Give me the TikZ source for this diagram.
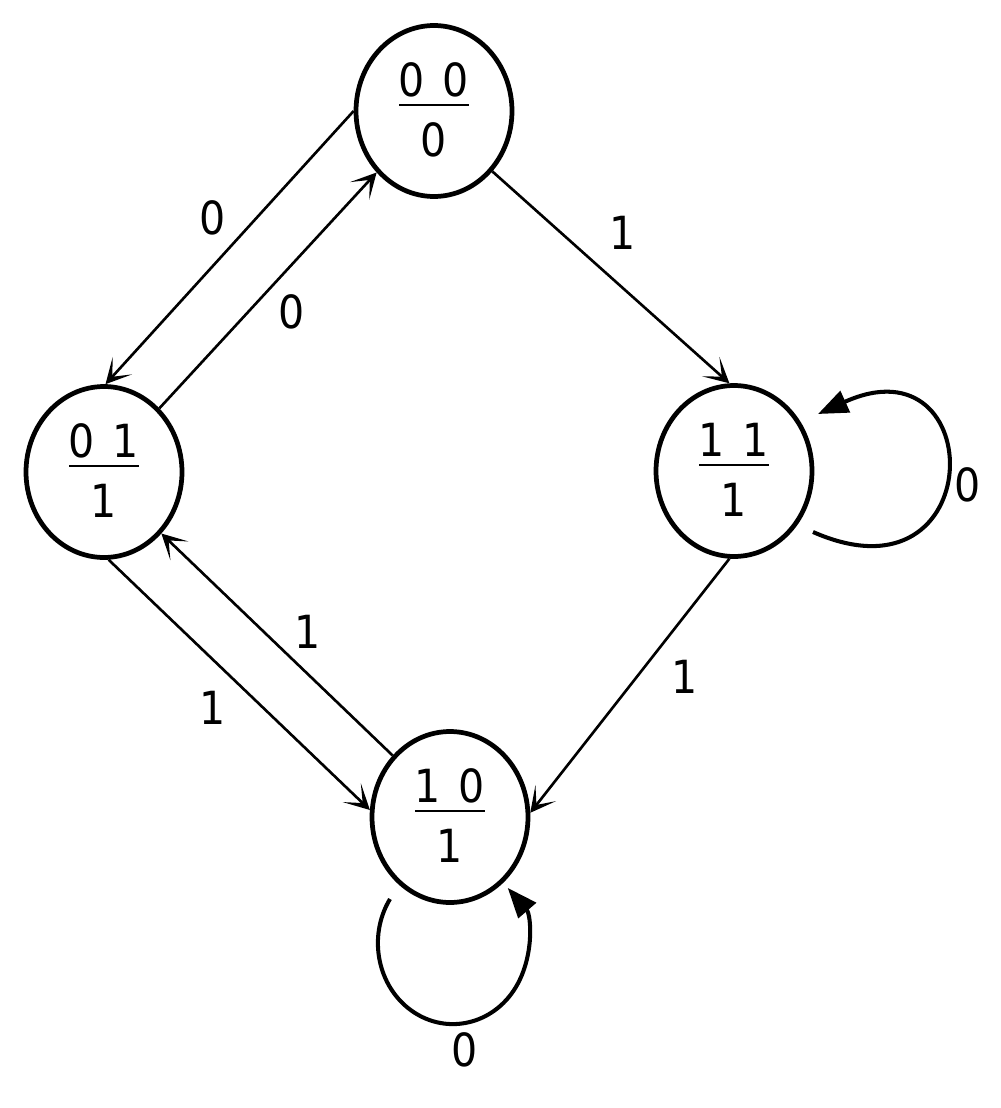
\documentclass[tikz,border=0pt]{standalone}
\usepackage{fontspec}
\newfontfamily\digfont[FakeStretch=0.9]{DejaVu Sans}
\usetikzlibrary{arrows.meta,shapes.geometric,calc}
\begin{document}
\begin{tikzpicture}[x=0.02cm,y=-0.02cm,
  state/.style={ellipse, draw, line width=2.7pt, minimum width=3.12cm, minimum height=3.42cm, inner sep=0pt},
  dig/.style={font=\digfont\fontsize{26}{30}\selectfont, inner sep=0pt},
  fracline/.style={line width=1pt},
  tr/.style={line width=1.5pt, -{Stealth[length=0.5cm,width=0.52cm,inset=0.3cm]}},
  selfloop/.style={line width=2.3pt, -{Triangle[length=0.6cm,width=0.46cm]}}]
\useasboundingbox (0,0) rectangle (1000,1108);

% states
\node[state] (s00) at (434,111) {};
\node[state] (s01) at (104,472) {};
\node[state] (s11) at (734,471) {};
\node[state] (s10) at (450,817) {};

% state texts
\node[dig] (s00a) at ($(s00)+(0,-31)$) {0\kern0.36cm0};
\node[dig] (s00b) at ($(s00)+(0,29)$) {0};
\draw[fracline] ($(s00)+(-35,-6)$) -- ($(s00)+(35,-6)$);

\node[dig] (s01a) at ($(s01)+(0,-31)$) {0\kern0.36cm1};
\node[dig] (s01b) at ($(s01)+(0,29)$) {1};
\draw[fracline] ($(s01)+(-35,-6)$) -- ($(s01)+(35,-6)$);

\node[dig] (s11a) at ($(s11)+(0,-31)$) {1\kern0.36cm1};
\node[dig] (s11b) at ($(s11)+(0,29)$) {1};
\draw[fracline] ($(s11)+(-35,-6)$) -- ($(s11)+(35,-6)$);

\node[dig] (s10a) at ($(s10)+(0,-31)$) {1\kern0.36cm0};
\node[dig] (s10b) at ($(s10)+(0,29)$) {1};
\draw[fracline] ($(s10)+(-35,-6)$) -- ($(s10)+(35,-6)$);

% transitions
\draw[tr] (s00.180) -- (s01.89);
\draw[tr] (s01.49) -- (s00.227);
\draw[tr] (s00.314) -- (s11.93);
\draw[tr] (s11.267) -- (s10.3);
\draw[tr] (s10.133) -- (s01.313);
\draw[tr] (s01.273) -- (s10.175);

% self loops
\coordinate (r0) at ($(s11)+(79,61)$);
\coordinate (r1) at ($(s11)+(84,-57)$);
\draw[selfloop] (r0) .. controls ($(s11)+(256,139)$) and ($(s11)+(256,-135)$) .. (r1);
\coordinate (b0) at ($(s10)+(-60,82)$);
\draw[selfloop] (b0) arc[start angle=147, end angle=403, x radius=1.5cm, y radius=1.62cm];

% labels
\node[dig] (l1) at (213,218) {0};
\node[dig] (l2) at (292,312) {0};
\node[dig] (l3) at (623,233) {1};
\node[dig] (l4) at (685,677) {1};
\node[dig] (l5) at (308,632) {1};
\node[dig] (l6) at (213,708) {1};
\node[dig] (l7) at (968,485) {0};
\node[dig] (l8) at (465,1050) {0};
\end{tikzpicture}
\end{document}
